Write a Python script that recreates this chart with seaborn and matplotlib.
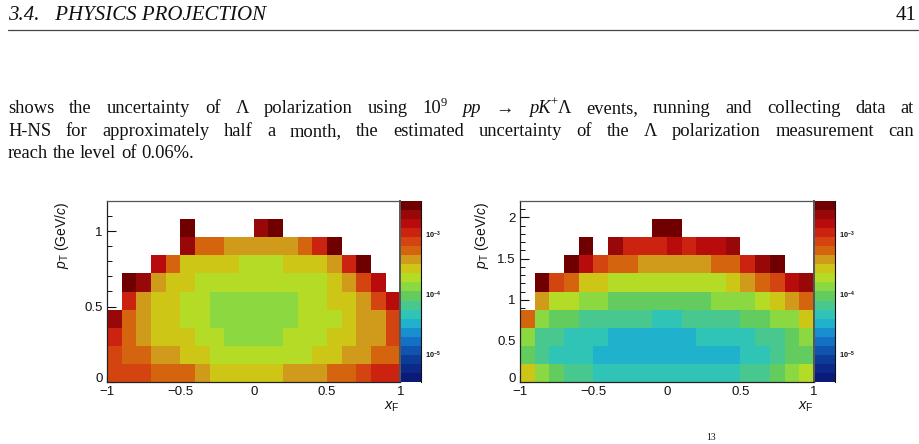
import numpy as np
import pandas as pd
import matplotlib
matplotlib.use("Agg")
import matplotlib.pyplot as plt
from matplotlib.colors import ListedColormap, LogNorm
from matplotlib.ticker import FixedLocator, FixedFormatter, LogLocator, LogFormatterMathtext, NullFormatter
from matplotlib.lines import Line2D
from matplotlib.transforms import ScaledTranslation
import seaborn as sns

n = np.nan

# ---------------- data ----------------
XF_LO, XF_BIN = -1.0, 0.1          # xF binning (20 bins, -1..1)
LEFT_PT_BIN = 0.12                 # pT binning left panel (10 bins, 0..1.2)
RIGHT_PT_BIN = 0.22                # pT binning right panel (10 bins, 0..2.2)

# uncertainty per (pT row, xF column); rows from low pT to high pT
left_rows = [
    [7.6e-4, 7.6e-4, 7.6e-4, 5.3e-4, 5.3e-4, 5.3e-4, 3.8e-4, 2.7e-4, 2.7e-4, 2.7e-4, 2.7e-4, 2.7e-4, 3.8e-4, 3.8e-4, 3.8e-4, 5.3e-4, 5.3e-4, 7.6e-4, 1.07e-3, 1.07e-3],
    [7.6e-4, 5.3e-4, 5.3e-4, 3.8e-4, 3.8e-4, 2.7e-4, 2.7e-4, 1.9e-4, 1.9e-4, 1.9e-4, 1.9e-4, 1.9e-4, 1.9e-4, 1.9e-4, 2.7e-4, 2.7e-4, 3.8e-4, 3.8e-4, 5.3e-4, 5.3e-4],
    [1.07e-3, 5.3e-4, 3.8e-4, 2.7e-4, 2.7e-4, 2.7e-4, 1.9e-4, 1.9e-4, 1.3e-4, 1.3e-4, 1.3e-4, 1.3e-4, 1.9e-4, 1.9e-4, 1.9e-4, 2.7e-4, 2.7e-4, 3.8e-4, 3.8e-4, 7.6e-4],
    [2.1e-3, 5.3e-4, 3.8e-4, 2.7e-4, 2.7e-4, 1.9e-4, 1.9e-4, 1.3e-4, 1.3e-4, 1.3e-4, 1.3e-4, 1.3e-4, 1.3e-4, 1.9e-4, 1.9e-4, 1.9e-4, 2.7e-4, 3.8e-4, 3.8e-4, 7.6e-4],
    [n, 1.07e-3, 3.8e-4, 2.7e-4, 2.7e-4, 1.9e-4, 1.9e-4, 1.3e-4, 1.3e-4, 1.3e-4, 1.3e-4, 1.3e-4, 1.3e-4, 1.9e-4, 1.9e-4, 2.7e-4, 2.7e-4, 3.8e-4, 7.6e-4, 1.5e-3],
    [n, 3.0e-3, 2.1e-3, 3.8e-4, 2.7e-4, 2.7e-4, 1.9e-4, 1.9e-4, 1.9e-4, 1.9e-4, 1.9e-4, 1.9e-4, 1.9e-4, 1.9e-4, 1.9e-4, 2.7e-4, 3.8e-4, 7.6e-4, 1.5e-3, n],
    [n, n, n, 1.5e-3, 5.3e-4, 2.7e-4, 2.7e-4, 2.7e-4, 2.7e-4, 1.9e-4, 1.9e-4, 1.9e-4, 2.7e-4, 2.7e-4, 2.7e-4, 3.8e-4, 1.07e-3, 3.0e-3, n, n],
    [n, n, n, n, n, 2.1e-3, 5.3e-4, 5.3e-4, 3.8e-4, 3.8e-4, 3.8e-4, 3.8e-4, 3.8e-4, 5.3e-4, 1.07e-3, 3.0e-3, n, n, n, n],
    [n, n, n, n, n, 3.0e-3, n, n, n, n, 2.1e-3, 3.0e-3, n, n, n, n, n, n, n, n],
    [n, n, n, n, n, n, n, n, n, n, n, n, n, n, n, n, n, n, n, n],
]

right_rows = [
    [2.7e-4, 1.3e-4, 9.3e-5, 6.6e-5, 6.6e-5, 4.6e-5, 4.6e-5, 4.6e-5, 4.6e-5, 4.6e-5, 4.6e-5, 4.6e-5, 4.6e-5, 4.6e-5, 4.6e-5, 6.6e-5, 6.6e-5, 9.3e-5, 1.3e-4, 1.9e-4],
    [9.3e-5, 6.6e-5, 4.6e-5, 4.6e-5, 4.6e-5, 3.3e-5, 3.3e-5, 3.3e-5, 3.3e-5, 3.3e-5, 3.3e-5, 3.3e-5, 3.3e-5, 3.3e-5, 3.3e-5, 4.6e-5, 4.6e-5, 6.6e-5, 9.3e-5, 9.3e-5],
    [1.3e-4, 6.6e-5, 6.6e-5, 4.6e-5, 4.6e-5, 4.6e-5, 3.3e-5, 3.3e-5, 3.3e-5, 3.3e-5, 3.3e-5, 3.3e-5, 4.6e-5, 4.6e-5, 4.6e-5, 4.6e-5, 6.6e-5, 6.6e-5, 9.3e-5, 1.3e-4],
    [5.3e-4, 1.3e-4, 9.3e-5, 9.3e-5, 6.6e-5, 6.6e-5, 6.6e-5, 6.6e-5, 6.6e-5, 4.6e-5, 4.6e-5, 6.6e-5, 6.6e-5, 6.6e-5, 6.6e-5, 9.3e-5, 9.3e-5, 1.3e-4, 1.3e-4, 2.7e-4],
    [n, 3.8e-4, 1.9e-4, 1.9e-4, 1.3e-4, 1.3e-4, 9.3e-5, 9.3e-5, 9.3e-5, 9.3e-5, 9.3e-5, 9.3e-5, 9.3e-5, 1.3e-4, 1.3e-4, 1.3e-4, 1.9e-4, 2.7e-4, 3.8e-4, 5.3e-4],
    [n, 3.0e-3, 7.6e-4, 5.3e-4, 2.7e-4, 2.7e-4, 1.9e-4, 1.9e-4, 1.9e-4, 1.9e-4, 1.9e-4, 1.9e-4, 1.9e-4, 1.9e-4, 2.7e-4, 3.8e-4, 5.3e-4, 7.6e-4, 1.5e-3, 2.1e-3],
    [n, n, n, 3.0e-3, 1.5e-3, 7.6e-4, 5.3e-4, 5.3e-4, 3.8e-4, 3.8e-4, 3.8e-4, 3.8e-4, 3.8e-4, 5.3e-4, 5.3e-4, 1.07e-3, 2.1e-3, 3.0e-3, n, n],
    [n, n, n, n, 3.0e-3, n, 2.1e-3, 1.07e-3, 1.07e-3, 1.07e-3, 1.5e-3, 1.07e-3, 1.5e-3, 1.5e-3, 2.1e-3, n, n, n, n, n],
    [n, n, n, n, n, n, n, n, n, 3.0e-3, 3.0e-3, n, n, n, n, n, n, n, n, n],
    [n, n, n, n, n, n, n, n, n, n, n, n, n, n, n, n, n, n, n, n],
]

xf_ticks = [-1, -0.5, 0, 0.5, 1]
left_pt_ticks = [0, 0.5, 1]
right_pt_ticks = [0, 0.5, 1, 1.5, 2]
Z_MIN, Z_MAX = 3.4e-6, 3.6e-3

palette = [
    "#0a1a78", "#0c2888", "#0c3c98", "#1054b0", "#1470c4",
    "#1890d0", "#20b2cc", "#30c4b6", "#48c88e", "#62cc5e",
    "#8cd840", "#b4dc26", "#cdc616", "#d09a1a", "#d5640f",
    "#d44410", "#cc2210", "#b80c0c", "#980808", "#700000",
]

# ---------------- figure ----------------
W, H, DPI = 920, 444, 100
sns.set_style("white")
plt.rcParams["font.family"] = ["Liberation Sans", "DejaVu Sans"]
plt.rcParams["mathtext.fontset"] = "custom"
plt.rcParams["mathtext.rm"] = "Liberation Sans"
plt.rcParams["mathtext.it"] = "Liberation Sans:italic"
plt.rcParams["mathtext.bf"] = "Liberation Sans:bold"

fig = plt.figure(figsize=(W / DPI, H / DPI), dpi=DPI)
fig.patch.set_facecolor("white")
cmap = ListedColormap(palette)


def px_rect(x0, y0, x1, y1):
    return [x0 / W, 1 - y1 / H, (x1 - x0) / W, (y1 - y0) / H]


def fmt(v):
    return f"{v:g}".replace("-", "\u2212")


def panel(rows, pt_bin, pt_ticks, pt_max, ax_rect, cax_rect, ylab_x, xlab_x):
    ax = fig.add_axes(px_rect(*ax_rect))
    cax = fig.add_axes(px_rect(*cax_rect))
    df = pd.DataFrame(rows)
    sns.heatmap(df, ax=ax, cmap=cmap, norm=LogNorm(vmin=Z_MIN, vmax=Z_MAX),
                cbar=True, cbar_ax=cax, linewidths=0,
                xticklabels=False, yticklabels=False)
    ax.invert_yaxis()
    ax.set_xlabel("")
    ax.set_ylabel("")
    ax.set_facecolor("white")
    # x axis (xF)
    ax.xaxis.set_major_locator(FixedLocator([(v - XF_LO) / XF_BIN for v in xf_ticks]))
    ax.xaxis.set_major_formatter(FixedFormatter([fmt(v) for v in xf_ticks]))
    ax.xaxis.set_minor_locator(FixedLocator(np.arange(0, df.shape[1] + 1)))
    # y axis (pT)
    ax.yaxis.set_major_locator(FixedLocator([v / pt_bin for v in pt_ticks]))
    ax.yaxis.set_major_formatter(FixedFormatter([fmt(v) for v in pt_ticks]))
    ax.yaxis.set_minor_locator(FixedLocator(np.arange(0, pt_max + 1e-6, 0.1) / pt_bin))
    ax.tick_params(axis="x", which="major", direction="in", length=4.0, width=0.8,
                   labelsize=9.5, pad=3, colors="#111111", bottom=True, top=False,
                   labelrotation=0)
    ax.tick_params(axis="x", which="minor", direction="in", length=2.0, width=0.7,
                   bottom=True, top=False, colors="#111111")
    ax.tick_params(axis="y", which="major", direction="in", length=6.5, width=0.8,
                   labelsize=9.5, pad=3, colors="#111111", left=True, right=False,
                   labelrotation=0)
    ax.tick_params(axis="y", which="minor", direction="in", length=3.3, width=0.7,
                   left=True, right=False, colors="#111111")
    # lift the y-axis "0" a little so it does not sit on the x-axis "-1"
    ylabs = ax.get_yticklabels()
    if ylabs:
        ylabs[0].set_transform(ylabs[0].get_transform()
                               + ScaledTranslation(0, 3 / 72, fig.dpi_scale_trans))
    for side in ["left", "bottom", "top", "right"]:
        ax.spines[side].set_visible(True)
        ax.spines[side].set_linewidth(0.9)
        ax.spines[side].set_color("#222222" if side in ("left", "bottom") else "#555555")
    ax.spines["right"].set_linewidth(1.4)
    # colorbar
    cb = ax.collections[0].colorbar
    cb.outline.set_visible(False)
    cb.ax.yaxis.set_major_locator(LogLocator(base=10))
    cb.ax.yaxis.set_major_formatter(LogFormatterMathtext())
    cb.ax.yaxis.set_minor_locator(LogLocator(base=10, subs=np.arange(2, 10)))
    cb.ax.yaxis.set_minor_formatter(NullFormatter())
    cb.ax.tick_params(axis="y", which="major", direction="in", length=4.5, width=0.8,
                      labelsize=5.2, pad=3, colors="#111111", right=True, left=False)
    cb.ax.tick_params(axis="y", which="minor", direction="in", length=2.5, width=0.7,
                      right=True, left=False, colors="#111111")
    for lab in cb.ax.get_yticklabels():
        lab.set_fontweight("bold")
    cb.ax.spines["right"].set_visible(True)
    cb.ax.spines["right"].set_color("#111111")
    cb.ax.spines["right"].set_linewidth(0.8)
    # axis titles (ROOT style: at the end of the axes)
    fig.text(ylab_x / W, 1 - 202 / H, r"$p_{\mathrm{T}}$ (GeV/$c$)", rotation=90,
             ha="center", va="top", fontsize=10, color="#111111")
    fig.text(xlab_x / W, 1 - 407 / H, r"$x_{\mathrm{F}}$", ha="right", va="center",
             fontsize=10.5, color="#111111")
    return ax


panel(left_rows, LEFT_PT_BIN, left_pt_ticks, 1.2,
      (107, 201, 400.5, 382), (401.5, 201, 421, 382), 62, 400)
panel(right_rows, RIGHT_PT_BIN, right_pt_ticks, 2.2,
      (520, 201, 814, 382), (815.3, 201, 834.7, 382), 482, 814)

# ---------------- page text ----------------
SERIF = ["Liberation Serif", "DejaVu Serif"]
BODY = 13.3
HEAD = 15.0
renderer = fig.canvas.get_renderer()

fig.text(8 / W, 1 - 20 / H, "3.4.   PHYSICS PROJECTION", fontsize=HEAD, family=SERIF,
         style="italic", ha="left", va="baseline", color="#111111")
fig.text(917 / W, 1 - 20 / H, "41", fontsize=HEAD, family=SERIF,
         ha="right", va="baseline", color="#111111")
fig.add_artist(Line2D([8 / W, 918 / W], [1 - 30 / H, 1 - 30 / H], transform=fig.transFigure,
                      color="#444444", lw=0.9))


def place_line(words, ybase, x0, x1=None):
    objs, widths = [], []
    for w in words:
        segs, ww = [], 0.0
        for s, st in w:
            fs = BODY * 0.68 if st == "sup" else BODY
            t = fig.text(0, 0, s, fontsize=fs, family=SERIF,
                         style="italic" if st == "it" else "normal",
                         ha="left", va="baseline", color="#111111")
            wd = t.get_window_extent(renderer).width
            segs.append((t, st, wd))
            ww += wd
        objs.append(segs)
        widths.append(ww)
    if x1 is None:
        gap = BODY * 0.25 * DPI / 72
    else:
        gap = (x1 - x0 - sum(widths)) / (len(words) - 1)
    x = x0
    for segs, ww in zip(objs, widths):
        xx = x
        for t, st, wd in segs:
            yy = ybase - (BODY * 0.40 * DPI / 72 if st == "sup" else 0)
            t.set_position((xx / W, 1 - yy / H))
            xx += wd + (0.5 if st == "sup" else 0)
        x += ww + gap


def plain(text):
    return [[(w, "rm")] for w in text.split(" ")]


line1 = (plain("shows the uncertainty of \u039b polarization using")
         + [[("10", "rm"), ("9", "sup")], [("pp", "it")], [("\u2192", "rm")],
            [("pK", "it"), ("+", "sup"), ("\u039b", "rm")]]
         + plain("events, running and collecting data at"))
line2 = plain("H-NS for approximately half a month, the estimated uncertainty of the "
              "\u039b polarization measurement can")
line3 = plain("reach the level of 0.06%.")

place_line(line1, 113, 8, 914)
place_line(line2, 136, 8, 914)
place_line(line3, 158, 8)

fig.text(711 / W, 1 - 433 / H, "13", fontsize=7, family=SERIF, ha="center", va="top",
         color="#111111")

fig.savefig("out.png", dpi=DPI, facecolor="white")
